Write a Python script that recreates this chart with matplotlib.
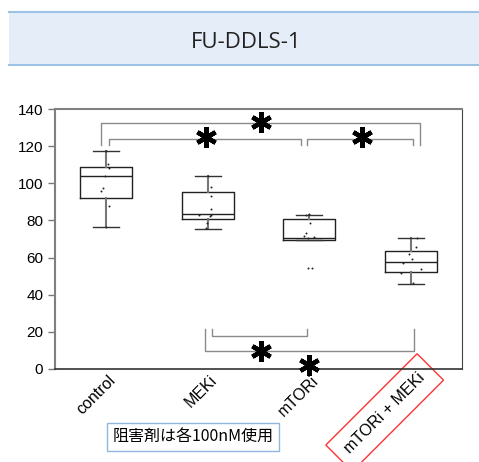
import matplotlib.pyplot as plt
import matplotlib.transforms as mtransforms
from matplotlib.patches import Rectangle
from matplotlib.lines import Line2D

plt.rcParams['font.family'] = ['Liberation Sans', 'DejaVu Sans']

groups = ['control', 'MEKi', 'mTORi', 'mTORi + MEKi']

# box stats: low whisker, q1, median, q3, high whisker
whislo = [76.5, 75.4, 69.6, 46.0]
q1 = [91.9, 80.6, 69.6, 52.5]
med = [103.7, 83.5, 70.3, 57.4]
q3 = [108.8, 95.1, 80.6, 63.3]
whishi = [117.4, 103.7, 82.9, 70.3]

# individual points (values) and their small horizontal jitter
pts = [
    [117.6, 110.4, 108.0, 104.0, 97.6, 95.9, 88.0, 76.6],
    [104.0, 98.0, 93.2, 86.0, 83.1, 82.7, 82.3, 78.8, 75.9],
    [83.3, 83.0, 78.8, 73.4, 71.6, 71.3, 70.3, 54.2, 54.2],
    [70.5, 65.5, 62.0, 59.3, 57.2, 53.7, 51.8, 46.4],
]
jit = [
    [0.0, 0.02, 0.03, -0.01, -0.03, -0.05, 0.03, 0.0],
    [0.0, 0.03, 0.03, 0.03, -0.08, 0.03, 0.02, -0.01, -0.02],
    [0.0, -0.03, 0.01, -0.03, -0.055, 0.05, -0.016, -0.016, 0.026],
    [0.06, 0.05, -0.016, 0.01, -0.08, 0.1, -0.1, 0.023],
]

# significance brackets: (x1, x2, y bar, y leg end)
brackets_top = [(0.95, 4.09, 132.3, 120.6), (1.03, 2.92, 124.1, 120.6), (2.98, 4.02, 124.1, 120.6)]
brackets_bot = [(1.97, 4.03, 9.7, 21.5), (2.04, 2.98, 17.8, 21.5)]
stars = [(2.52, 133.0), (1.98, 125.0), (3.52, 125.0), (2.52, 9.7), (3.0, 2.2)]

fig = plt.figure(figsize=(4.79, 4.62), dpi=100)

# title band
band = Rectangle((9 / 479, 0.859), 1 - 9 / 479, 0.115, transform=fig.transFigure,
                 facecolor='#e5eef8', edgecolor='none')
fig.patches.append(band)
for yy in (0.859, 0.974):
    fig.add_artist(Line2D([9 / 479, 1.0], [yy, yy], transform=fig.transFigure,
                          color='#9cc2e5', lw=1.5))
fig.text(0.514, 0.909, 'FU-DDLS-1', ha='center', va='center', fontsize=16,
         family=['Open Sans', 'DejaVu Sans'], color='#222222')

ax = fig.add_axes([55 / 479, 0.2013, (462 - 55) / 479, 0.764 - 0.2013])

stats = []
for i in range(len(groups)):
    stats.append({'whislo': whislo[i], 'q1': q1[i], 'med': med[i], 'q3': q3[i],
                  'whishi': whishi[i], 'fliers': []})
ax.bxp(stats, positions=[1, 2, 3, 4], widths=0.51, showfliers=False,
       boxprops=dict(color='#222222', lw=1.0),
       medianprops=dict(color='#222222', lw=1.0),
       whiskerprops=dict(color='#777777', lw=1.5),
       capprops=dict(color='#333333', lw=1.0))

for i, vals in enumerate(pts):
    xs = [i + 1 + j for j in jit[i]]
    ax.scatter(xs, vals, s=2, color='#222222', zorder=3, linewidths=0)

for x1, x2, yb, yl in brackets_top + brackets_bot:
    ax.plot([x1, x1, x2, x2], [yl, yb, yb, yl], color='#8a8a8a', lw=1.0,
            clip_on=False)

for sx, sy in stars:
    ax.plot(sx, sy, marker=(6, 2, 0), markersize=15, mew=3.2, color='black',
            clip_on=False, zorder=5)

ax.set_xlim(0.5, 4.5)
ax.set_ylim(0, 140)
ax.set_yticks(range(0, 141, 20))
ax.tick_params(axis='y', length=5, width=1, colors='#777777', labelcolor='black',
               labelsize=11)
ax.tick_params(axis='x', length=0, labelsize=11.5, pad=4)
ax.set_xticks([1, 2, 3, 4])
labels = ax.set_xticklabels(groups, rotation=45, ha='right', va='top',
                            rotation_mode='anchor')
shift = mtransforms.ScaledTranslation(2 / 100, 2 / 100, fig.dpi_scale_trans)
for lab in labels:
    lab.set_transform(lab.get_transform() + shift)
labels[3].set_transform(labels[3].get_transform()
                        + mtransforms.ScaledTranslation(4 / 100, 3 / 100, fig.dpi_scale_trans))
labels[3].set_bbox(dict(facecolor='none', edgecolor='#ff3333', lw=1.0, pad=8))

ax.spines['left'].set_color('#808080')
ax.spines['left'].set_linewidth(1.5)
ax.spines['top'].set_color('#808080')
ax.spines['top'].set_linewidth(1.5)
ax.spines['right'].set_color('#444444')
ax.spines['bottom'].set_color('#333333')
ax.spines['bottom'].set_linewidth(1.2)

fig.text(193 / 479, 1 - 437 / 462, '阻害剤は各100nM使用', ha='center', va='center',
         fontsize=11.5, family=['Noto Sans CJK JP', 'DejaVu Sans'],
         bbox=dict(facecolor='white', edgecolor='#8fb8de', lw=1.0, pad=4))

fig.savefig('out.png', dpi=100)
